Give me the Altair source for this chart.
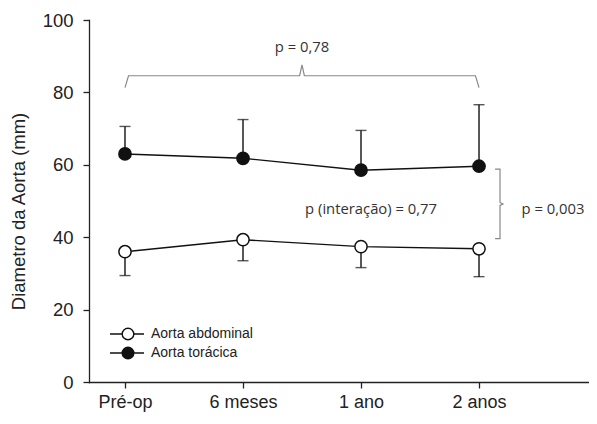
import altair as alt
import pandas as pd
import json

# ---- data ----
categories = ["Pré-op", "6 meses", "1 ano", "2 anos"]
cat_pos = [0, 1, 2, 3]
toracica_mean = [63.0, 61.8, 58.5, 59.6]
toracica_upper = [70.6, 72.5, 69.5, 76.6]
abdominal_mean = [36.0, 39.3, 37.4, 36.8]
abdominal_lower = [29.4, 33.5, 31.6, 29.1]

series_names = ["Aorta abdominal", "Aorta torácica"]

# annotation braces (data coordinates)
brace_top_x = [0.0, 0.03, 1.48, 1.5, 1.52, 2.97, 3.0]
brace_top_y = [81.3, 84.6, 84.6, 87.6, 84.6, 84.6, 81.3]
brace_right_x = [3.136, 3.178, 3.178, 3.203, 3.178, 3.178, 3.136]
brace_right_y = [58.8, 58.8, 49.6, 49.2, 48.8, 39.6, 39.6]

annot_text = ["p = 0,78", "p (interação) = 0,77", "p = 0,003"]
annot_x = [1.5, 2.085, 3.36]
annot_y = [92.3, 47.6, 47.6]
annot_align = ["center", "center", "left"]

# ---- tables ----
df_t = pd.DataFrame({"x": cat_pos, "y": toracica_mean, "err": toracica_upper})
df_a = pd.DataFrame({"x": cat_pos, "y": abdominal_mean, "err": abdominal_lower})
df_bt = pd.DataFrame({"x": brace_top_x, "y": brace_top_y, "o": range(len(brace_top_x))})
df_br = pd.DataFrame({"x": brace_right_x, "y": brace_right_y, "o": range(len(brace_right_x))})
df_txt = pd.DataFrame({"x": annot_x, "y": annot_y, "t": annot_text, "a": annot_align})

FONT = "Liberation Sans"
label_expr = json.dumps(categories) + "[datum.value]"

xs = alt.Scale(domain=[-0.305, 3.932], nice=False, zero=False)
ys = alt.Scale(domain=[0, 100], nice=False)

X = alt.X("x:Q", scale=xs, axis=alt.Axis(
    values=cat_pos, labelExpr=label_expr, title=None, grid=False,
    tickSize=6, labelPadding=5, labelFontSize=18, labelFont=FONT,
    labelColor="#222", domainColor="#222", tickColor="#222",
    domainWidth=1.3, tickWidth=1.3))
Y = alt.Y("y:Q", scale=ys, axis=alt.Axis(
    values=[0, 20, 40, 60, 80, 100], title="Diametro da Aorta (mm)", grid=False,
    tickSize=6, labelPadding=10, labelFontSize=18.5, labelFont=FONT,
    labelColor="#222", domainColor="#222", tickColor="#222",
    domainWidth=1.3, tickWidth=1.3, titleFont=FONT, titleFontSize=18.5,
    titleFontWeight="normal", titleColor="#222", titleX=-71, titleY=191,
    titleAngle=-90, titleAlign="center", titleBaseline="middle"))

LC = "#111"


def series(df, fill):
    base = alt.Chart(df)
    err = base.mark_rule(color=LC, strokeWidth=1.4).encode(x=X, y=Y, y2="err:Q")
    cap = base.mark_tick(color=LC, orient="horizontal", size=11, thickness=1.4).encode(
        x=X, y=alt.Y("err:Q", scale=ys))
    line = base.mark_line(color=LC, strokeWidth=1.4).encode(x=X, y=Y)
    pts = base.mark_point(filled=False, fill=fill, fillOpacity=1, stroke=LC,
                          strokeWidth=1.5, size=150, opacity=1, shape="circle").encode(x=X, y=Y)
    return [err, cap, line, pts]


braces = [
    alt.Chart(d).mark_line(color="#888", strokeWidth=1.2).encode(x=X, y=Y, order="o:Q")
    for d in (df_bt, df_br)
]

texts = [
    alt.Chart(df_txt.iloc[[i]]).mark_text(
        font="Open Sans", fontSize=14.8, color="#333", align=annot_align[i],
        baseline="middle").encode(x=X, y=Y, text="t:N")
    for i in range(len(annot_text))
]

# legend (pixel positions inside plot area)
leg_y = [314, 333]
leg_fill = ["white", "#111"]
legend = []
for i, name in enumerate(series_names):
    legend.append(alt.Chart(pd.DataFrame({"n": [name]})).mark_rule(color=LC, strokeWidth=1.4).encode(
        x=alt.value(21), x2=alt.value(55), y=alt.value(leg_y[i])))
    legend.append(alt.Chart(pd.DataFrame({"n": [name]})).mark_point(
        filled=False, fill=leg_fill[i], fillOpacity=1, stroke=LC, strokeWidth=1.4,
        size=135, opacity=1, shape="circle").encode(x=alt.value(39), y=alt.value(leg_y[i])))
    legend.append(alt.Chart(pd.DataFrame({"n": [name]})).mark_text(
        font=FONT, fontSize=14, color="#222", align="left", baseline="middle").encode(
        x=alt.value(62), y=alt.value(leg_y[i]), text="n:N"))

layers = braces + series(df_a, "white") + series(df_t, "#111") + texts + legend

chart = alt.layer(*layers).properties(
    width=500, height=362,
    autosize=alt.AutoSizeParams(type="none"),
    padding={"left": 81, "top": 12, "right": 0, "bottom": 32},
).configure_view(stroke=None).configure_axis(domainCap="square")

chart.save("out.html", embed_options={"renderer": "svg", "actions": False})
